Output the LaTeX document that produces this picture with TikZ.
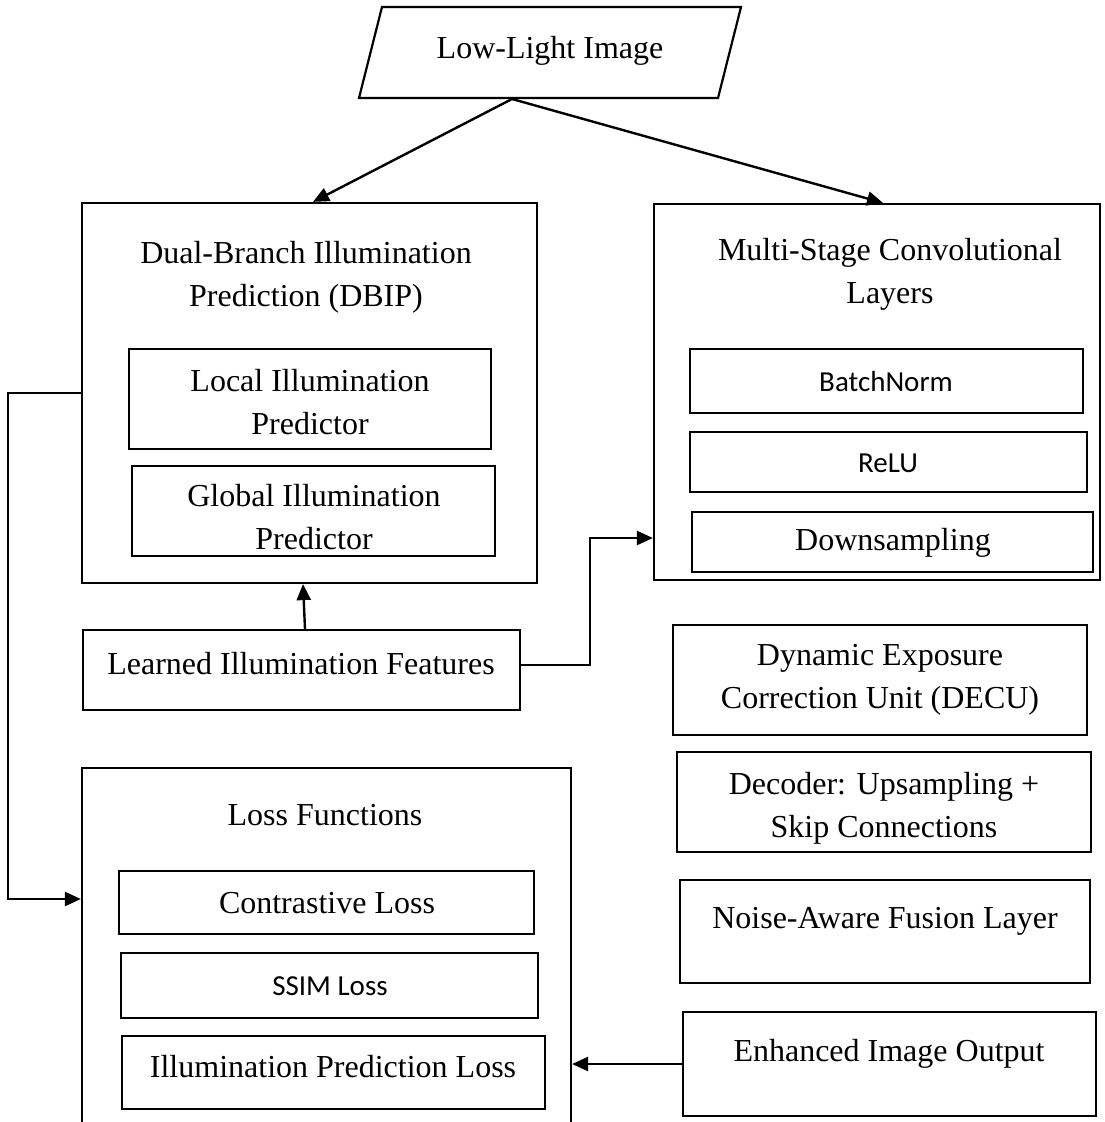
\documentclass[tikz,border=0pt]{standalone}
\usepackage{fontspec}
\setmainfont{Liberation Serif}
\newfontfamily\calfont{Carlito}
\usetikzlibrary{arrows.meta}
\tikzset{
  boxline/.style={draw=black, line width=2.2pt},
  box/.style={boxline, rectangle, inner sep=0pt},
  txt/.style={inner sep=0pt, align=center, font=\fontsize{32}{43}\selectfont},
  stxt/.style={inner sep=0pt, align=center, font=\calfont\fontsize{29}{36}\selectfont},
  arr/.style={line width=2.4pt, -{Triangle[length=16pt,width=14pt]}},
  conn/.style={line width=2.4pt}
}
\begin{document}
\begin{tikzpicture}[x=1pt,y=-1pt]
\useasboundingbox (0,0) rectangle (1105,1122);
% Input parallelogram
\draw[boxline] (382,7) -- (741,7) -- (718,98) -- (359,98) -- cycle;
\node[txt] (lli) at (550,51) {Low-Light Image};
\coordinate (src) at (512,99);

% DBIP
\node[box, minimum width=455pt, minimum height=380pt] (dbip) at (309.5,393) {};
\node[txt] (dbipt) at (306,277) {Dual-Branch Illumination\\Prediction (DBIP)};
\node[box, minimum width=362pt, minimum height=100pt] (local) at (310,399) {};
\node[txt] (localt) at (310,402) {Local Illumination\\Predictor};
\node[box, minimum width=363pt, minimum height=90pt] (global) at (313.5,511) {};
\node[txt] (globalt) at (314,517) {Global Illumination\\Predictor};

% Multi-stage
\node[box, minimum width=446pt, minimum height=376pt] (ms) at (877,392) {};
\node[txt] (mst) at (890,274) {Multi-Stage Convolutional\\Layers};
\node[box, minimum width=393pt, minimum height=64pt] (bn) at (886.5,381) {};
\node[stxt] (bnt) at (886,382) {BatchNorm};
\node[box, minimum width=397pt, minimum height=60pt] (relu) at (888.5,462) {};
\node[stxt] (relut) at (888,463) {ReLU};
\node[box, minimum width=401pt, minimum height=60pt] (down) at (892.5,542) {};
\node[txt] (downt) at (893,543) {Downsampling};

% Learned features
\node[box, minimum width=437pt, minimum height=80pt] (lif) at (301.5,670) {};
\node[txt] (lift) at (301,664) {Learned Illumination Features};

% Right column
\node[box, minimum width=414pt, minimum height=110pt] (decu) at (880,680) {};
\node[txt] (decut) at (880,680) {Dynamic Exposure\\Correction Unit (DECU)};
\node[box, minimum width=414pt, minimum height=100pt] (dec) at (884,802) {};
\node[txt] (dect) at (884,808) {Decoder: Upsampling +\\Skip Connections};
\node[box, minimum width=410pt, minimum height=103pt] (naf) at (885,931.5) {};
\node[txt] (naft) at (885,921) {Noise-Aware Fusion Layer};
\node[box, minimum width=413pt, minimum height=104pt] (enh) at (889.5,1064) {};
\node[txt] (enht) at (889,1054) {Enhanced Image Output};

% Loss functions
\node[box, minimum width=489pt, minimum height=362pt] (loss) at (326.5,949) {};
\node[txt] (losst) at (325,815) {Loss Functions};
\node[box, minimum width=415pt, minimum height=63pt] (con) at (326.5,902.5) {};
\node[txt] (cont) at (327,903) {Contrastive Loss};
\node[box, minimum width=417pt, minimum height=65pt] (ssim) at (329.5,985.5) {};
\node[stxt] (ssimt) at (330,986) {SSIM Loss};
\node[box, minimum width=423pt, minimum height=73pt] (ipl) at (333.5,1072.5) {};
\node[txt] (iplt) at (333,1067) {Illumination Prediction Loss};

% Connectors
\draw[arr] (src) -- ([xshift=3.5pt]dbip.north);
\draw[arr] (src) -- ([xshift=6pt]ms.north);
\draw[arr] ([xshift=3.5pt]lif.north) -- ([xshift=-6.5pt]dbip.south);
\draw[arr] ([yshift=5pt]lif.east) -- ++(69,0) |- ([yshift=-146pt]ms.west);
\draw[arr] (dbip.west) -- ++(-73,0) |- ([yshift=50pt]loss.west);
\draw[arr] (enh.west) -- (loss.east |- enh.west);
\end{tikzpicture}
\end{document}
